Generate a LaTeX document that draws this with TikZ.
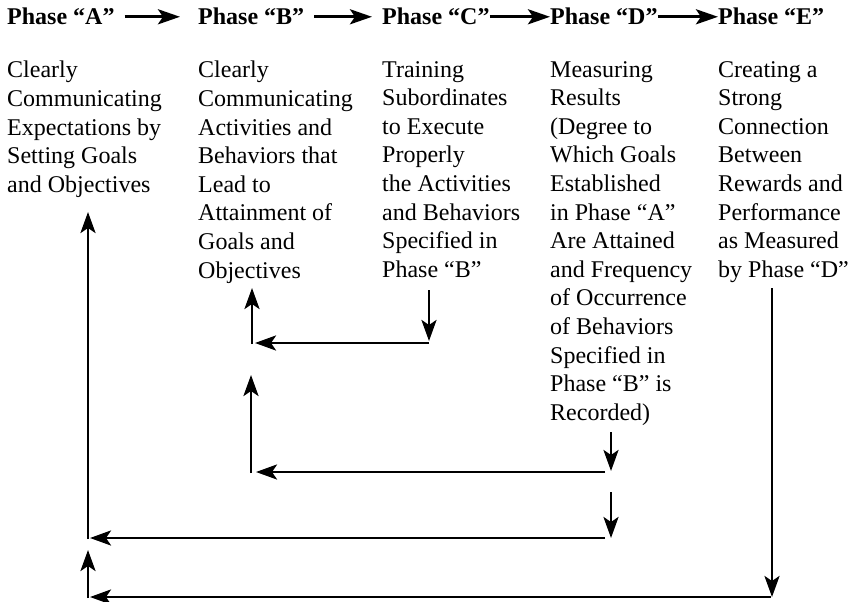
\documentclass[tikz,border=0pt]{standalone}
\usepackage{fontspec}
\setmainfont{Liberation Serif}
\usetikzlibrary{arrows.meta}

\tikzset{
  phase/.style={anchor=base west, inner sep=0pt, font=\fontsize{24}{28.6}\selectfont\bfseries},
  desc/.style={anchor=north west, inner sep=0pt, align=left, font=\fontsize{24}{28.6}\selectfont},
  flow/.style={line width=3.2pt, -{Stealth[length=22pt,width=15pt,inset=5pt]}},
  back/.style={line width=2.8pt, -{Stealth[length=21pt,width=15pt,inset=5pt]}}
}

\begin{document}
\begin{tikzpicture}[x=1pt,y=-1pt]
\useasboundingbox (0,0) rectangle (851,602);

% Phases
\node[phase] (pa) at (7,25) {Phase “A”};
\node[phase] (pb) at (198,25) {Phase “B”};
\node[phase] (pc) at (382,25) {Phase “C”};
\node[phase] (pd) at (550,25) {Phase “D”};
\node[phase] (pe) at (718,25) {Phase “E”};

% Descriptions
\node[desc] (a) at (7,61) {Clearly\\Communicating\\Expectations by\\Setting Goals\\and Objectives};
\node[desc] (b) at (198,61) {Clearly\\Communicating\\Activities and\\Behaviors that\\Lead to\\Attainment of\\Goals and\\Objectives};
\node[desc] (c) at (382,61) {Training\\Subordinates\\to Execute\\Properly\\the Activities\\and Behaviors\\Specified in\\Phase “B”};
\node[desc] (d) at (550,61) {Measuring\\Results\\(Degree to\\Which Goals\\Established\\in Phase “A”\\Are Attained\\and Frequency\\of Occurrence\\of Behaviors\\Specified in\\Phase “B” is\\Recorded)};
\node[desc] (e) at (718,61) {Creating a\\Strong\\Connection\\Between\\Rewards and\\Performance\\as Measured\\by Phase “D”};

% Forward sequence
\draw[flow, shorten <=10pt, shorten >=18pt] (pa) -- (pb);
\draw[flow, shorten <=10pt, shorten >=10pt] (pb) -- (pc);
\draw[flow] (pc) -- (pd);
\draw[flow] (pd) -- (pe);

% Feedback C to B
\coordinate (cb1) at (429,290);
\coordinate (cb2) at (429,341);
\coordinate (cb3) at (429,343);
\coordinate (cb4) at (255,343);
\coordinate (cb5) at (252,344);
\coordinate (cb6) at (252,288);
\draw[back] (cb1) -- (cb2);
\draw[back] (cb3) -- (cb4);
\draw[back] (cb5) -- (cb6);

% Feedback D to B
\coordinate (db1) at (611,432);
\coordinate (db2) at (611,471);
\coordinate (db3) at (605,472);
\coordinate (db4) at (256,472);
\coordinate (db5) at (251,473);
\coordinate (db6) at (251,375);
\draw[back] (db1) -- (db2);
\draw[back] (db3) -- (db4);
\draw[back] (db5) -- (db6);

% Feedback D to A
\coordinate (da1) at (611,492);
\coordinate (da2) at (611,538);
\coordinate (da3) at (605,538);
\coordinate (da4) at (90,538);
\coordinate (da5) at (88,539);
\coordinate (da6) at (88,212);
\draw[back] (da1) -- (da2);
\draw[back] (da3) -- (da4);
\draw[back] (da5) -- (da6);

% Feedback E to A
\coordinate (ea1) at (772,288);
\coordinate (ea2) at (772,597);
\coordinate (ea3) at (771,597);
\coordinate (ea4) at (90,597);
\coordinate (ea5) at (88,598);
\coordinate (ea6) at (88,550);
\draw[back] (ea1) -- (ea2);
\draw[back] (ea3) -- (ea4);
\draw[back] (ea5) -- (ea6);
\end{tikzpicture}
\end{document}
